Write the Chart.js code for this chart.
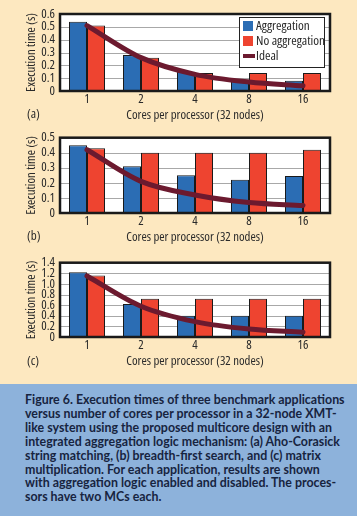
<!DOCTYPE html>
<html>
<head>
<meta charset="utf-8">
<script src="https://cdn.jsdelivr.net/npm/chart.js@4.4.0/dist/chart.umd.min.js"></script>
<style>
  body { margin: 0; width: 357px; height: 516px; overflow: hidden; position: relative;
         background: #fde8c0; font-family: "Open Sans", sans-serif; font-stretch: condensed; color: #2a2a2a; }
  .box { position: absolute; left: 0; width: 357px; height: 125px; }
  .tag { position: absolute; left: 27px; font-size: 13px; line-height: 14px; font-weight: 500; }
  #legend { position: absolute; left: 239px; top: 17px; width: 84px; height: 49px; background: #fff;
            border: 1px solid #222; font-size: 13.2px; font-weight: 500; }
  #legend div { position: relative; height: 15px; line-height: 15px; padding-left: 16px; white-space: nowrap; }
  #legend span { position: absolute; left: 3px; top: 3px; width: 10px; height: 10px; }
  #legend span.line { top: 6px; height: 4px; width: 12px; }
  #caption { position: absolute; left: 0; top: 384px; width: 357px; height: 132px; background: #8db2db; }
  #caption p { margin: 0; position: absolute; left: 25px; top: 9px; font-family: Lato, "Open Sans", sans-serif;
               font-stretch: normal; font-weight: bold; font-size: 12.4px; line-height: 13.9px; color: #17243f; white-space: nowrap; }
</style>
</head>
<body>
<div class="box" style="top:0"><canvas id="chartA"></canvas></div>
<div class="box" style="top:125px"><canvas id="chartB"></canvas></div>
<div class="box" style="top:250px"><canvas id="chartC"></canvas></div>
<div class="tag" style="top:106px">(a)</div>
<div class="tag" style="top:228px">(b)</div>
<div class="tag" style="top:353px">(c)</div>
<div id="legend">
  <div><span style="background:#2b6db4"></span>Aggregation</div>
  <div><span style="background:#ee4430"></span>No aggregation</div>
  <div><span class="line" style="background:#6c1a2f"></span>Ideal</div>
</div>
<div id="caption"><p>Figure 6. Execution times of three benchmark applications<br>versus number of cores per processor in a 32-node XMT-<br>like system using the proposed multicore design with an<br>integrated aggregation logic mechanism: (a) Aho-Corasick<br>string matching, (b) breadth-first search, and (c) matrix<br>multiplication. For each application, results are shown<br>with aggregation logic enabled and disabled. The proces-<br>sors have two MCs each.</p></div>

<script>
const cores = ["1", "2", "4", "8", "16"];

// (a) Aho-Corasick
const aggA = [0.54, 0.28, 0.15, 0.09, 0.08];
const noAggA = [0.51, 0.26, 0.14, 0.14, 0.14];
const idealA = [0.51, 0.26, 0.13, 0.07, 0.04];

// (b) breadth-first search
const aggB = [0.45, 0.31, 0.25, 0.22, 0.245];
const noAggB = [0.43, 0.40, 0.40, 0.40, 0.42];
const idealB = [0.42, 0.21, 0.12, 0.07, 0.05];

// (c) matrix multiplication
const aggC = [1.22, 0.62, 0.40, 0.40, 0.40];
const noAggC = [1.16, 0.72, 0.72, 0.72, 0.72];
const idealC = [1.15, 0.58, 0.29, 0.15, 0.09];

// "condensed" goes into the weight slot so the canvas font string gets it
Chart.defaults.font.family = '"Open Sans", sans-serif';
Chart.defaults.font.weight = "500 condensed";
Chart.defaults.font.size = 12.8;
Chart.defaults.color = "#2a2a2a";

// white plot area, grid lines and thick black frame
const frame = {
  id: "frame",
  beforeDatasetsDraw(chart) {
    const { ctx, chartArea: a } = chart;
    ctx.save();
    ctx.fillStyle = "#fff";
    ctx.fillRect(a.left, a.top, a.right - a.left, a.bottom - a.top);
    ctx.strokeStyle = "#a8a8a8";
    ctx.lineWidth = 1;
    chart.scales.y.ticks.forEach((t) => {
      const y = Math.round(chart.scales.y.getPixelForValue(t.value)) + 0.5;
      ctx.beginPath();
      ctx.moveTo(a.left, y);
      ctx.lineTo(a.right, y);
      ctx.stroke();
    });
    ctx.restore();
  },
  afterDatasetsDraw(chart) {
    const { ctx, chartArea: a } = chart;
    ctx.save();
    ctx.strokeStyle = "#1a1a1a";
    ctx.lineWidth = 2.5;
    ctx.strokeRect(a.left, a.top, a.right - a.left, a.bottom - a.top);
    ctx.restore();
  },
};

const makeChart = (id, agg, noAgg, ideal, yMax, step, padTop, padBottom) => {
  new Chart(document.querySelector(id), {
    type: "bar",
    data: {
      labels: cores,
      datasets: [
        {
          type: "line",
          label: "Ideal",
          data: ideal,
          borderColor: "#6c1a2f",
          borderWidth: 5,
          borderCapStyle: "round",
          pointRadius: 0,
          cubicInterpolationMode: "monotone",
          order: 0,
        },
        {
          label: "Aggregation",
          data: agg,
          backgroundColor: "#2b6db4",
          borderColor: "#1a1a1a",
          borderWidth: 1,
          borderSkipped: false,
          order: 1,
        },
        {
          label: "No aggregation",
          data: noAgg,
          backgroundColor: "#ee4430",
          borderColor: "#1a1a1a",
          borderWidth: 1,
          borderSkipped: false,
          order: 2,
        },
      ],
    },
    options: {
      responsive: true,
      maintainAspectRatio: false,
      animation: false,
      devicePixelRatio: 1,
      categoryPercentage: 0.667,
      barPercentage: 1,
      layout: { padding: { left: 0, right: 27, top: padTop, bottom: padBottom } },
      plugins: { legend: { display: false }, tooltip: { enabled: false } },
      scales: {
        x: {
          grid: { display: false, drawTicks: false },
          border: { display: false },
          ticks: { padding: 1 },
          title: { display: true, text: "Cores per processor (32 nodes)", padding: { top: 0, bottom: 2 } },
          afterFit: (s) => { s.height = 34; },
        },
        y: {
          min: 0,
          max: yMax,
          grid: { display: false, drawTicks: false },
          border: { display: false },
          ticks: {
            stepSize: step,
            autoSkip: false,
            padding: 5,
            callback: (v) => (v === 0 ? "0" : v.toFixed(1)),
          },
          title: { display: true, text: "Execution time (s)", padding: { top: 24, bottom: 0 } },
          afterFit: (s) => { s.width = 60; },
        },
      },
    },
    plugins: [frame],
  });
};

makeChart("#chartA", aggA, noAggA, idealA, 0.6, 0.1, 14, 0);
makeChart("#chartB", aggB, noAggB, idealB, 0.5, 0.1, 11, 3);
makeChart("#chartC", aggC, noAggC, idealC, 1.4, 0.2, 9, 4);
</script>
</body>
</html>
